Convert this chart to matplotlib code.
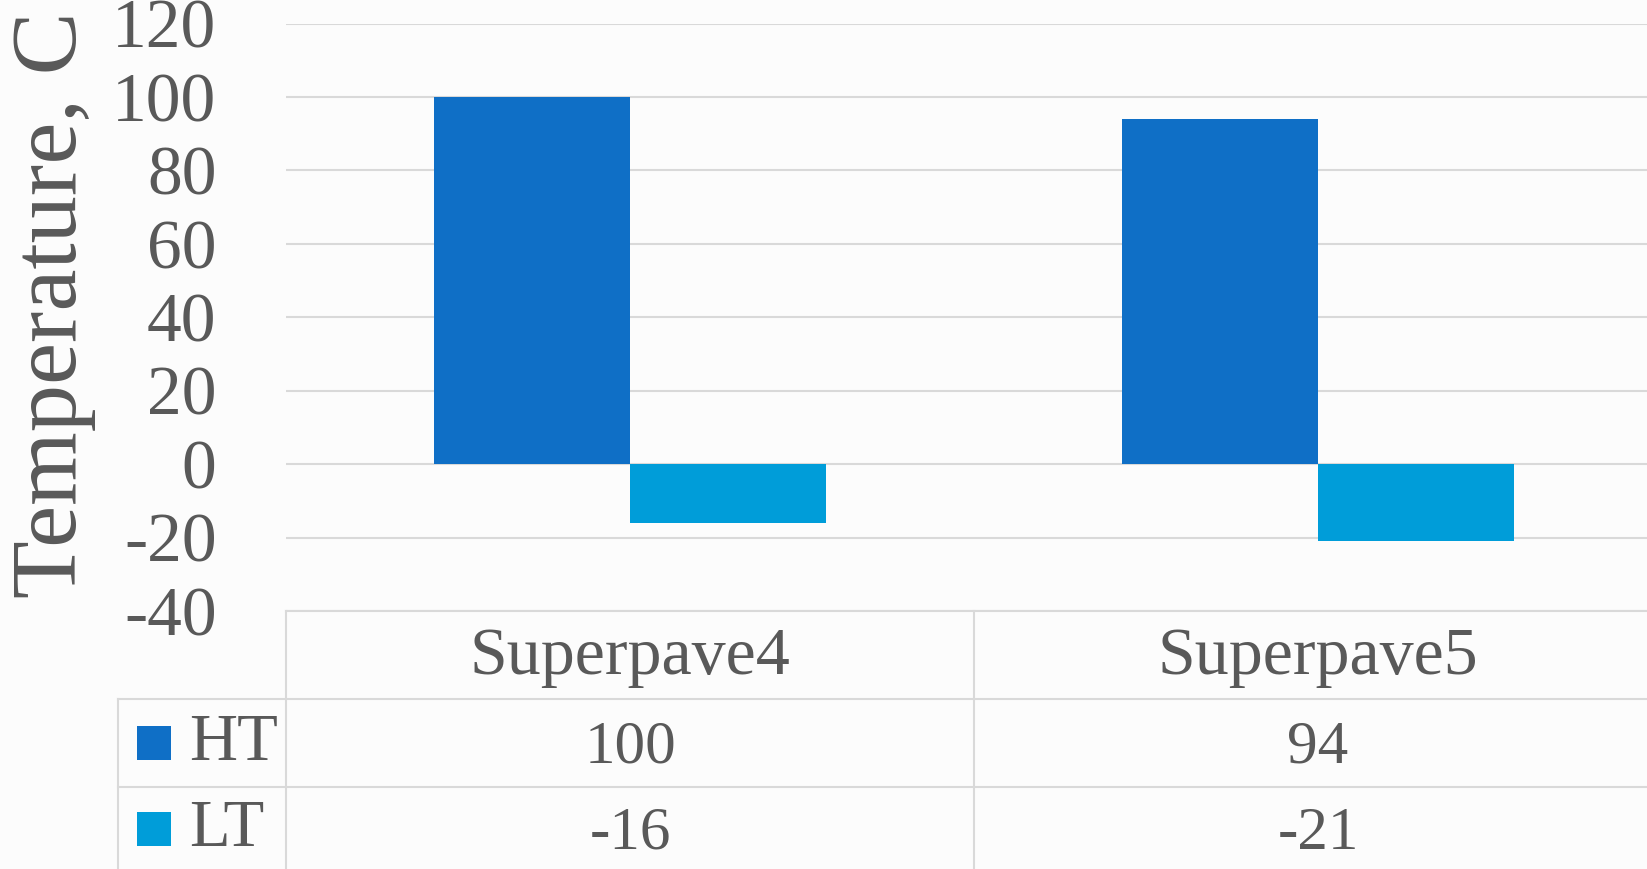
import matplotlib
matplotlib.use("Agg")
import matplotlib.pyplot as plt
from matplotlib.patches import Rectangle
import numpy as np

categories = ["Superpave4", "Superpave5"]
series_names = ["HT", "LT"]
ht_values = [100, 94]
lt_values = [-16, -21]
y_ticks = [-40, -20, 0, 20, 40, 60, 80, 100, 120]
y_label = "Temperature, C"

colors = ["#0F6FC6", "#009DD9"]
text_color = "#595959"
grid_color = "#D9D9D9"

plt.rcParams['font.family'] = ['Liberation Serif', 'DejaVu Serif']

W, H = 1647, 869
fig = plt.figure(figsize=(W / 100, H / 100), dpi=100)
fig.patch.set_facecolor("#FCFCFC")

# axes placement (pixel based)
ax_left, ax_right, ax_top, ax_bottom = 286, 1662, 23.6, 611
ax = fig.add_axes([ax_left / W, 1 - ax_bottom / H, (ax_right - ax_left) / W, (ax_bottom - ax_top) / H])
ax.set_facecolor("none")

x = np.arange(len(categories))
w = 0.285
ax.bar(x - w / 2, ht_values, w, color=colors[0], zorder=3)
ax.bar(x + w / 2, lt_values, w, color=colors[1], zorder=3)

ax.set_xlim(-0.5, len(categories) - 0.5)
ax.set_ylim(y_ticks[0], y_ticks[-1])
ax.set_yticks(y_ticks)
ax.set_yticklabels([str(t) for t in y_ticks], fontsize=50, color=text_color)
ax.tick_params(axis="y", length=0, pad=50)
ax.set_xticks([])
ax.grid(axis="y", color=grid_color, linewidth=1.5, zorder=0)
for s in ax.spines.values():
    s.set_visible(False)

fig.text(54 / W, 1 - 305 / H, y_label, rotation=90, fontsize=68, color=text_color,
         ha="center", va="center")

# data table
tr = ax.get_xaxis_transform()
px_per_unit = (ax_right - ax_left) / len(categories)
axh = ax_bottom - ax_top
def yax(py):
    return (ax_bottom - py) / axh

leg_left = -0.5 - (ax_left - 118) / px_per_unit
row_edges = [611, 699, 787, 880]
y_rows = [yax(p) for p in row_edges]
right = len(categories) - 0.5

lkw = dict(color=grid_color, linewidth=1.5, clip_on=False, transform=tr, zorder=1)
ax.plot([-0.5, right], [y_rows[0]] * 2, **lkw)
ax.plot([leg_left, right], [y_rows[1]] * 2, **lkw)
ax.plot([leg_left, right], [y_rows[2]] * 2, **lkw)
ax.plot([leg_left, leg_left], [y_rows[1], y_rows[3]], **lkw)
for xv in np.arange(len(categories) + 1) - 0.5:
    ax.plot([xv, xv], [y_rows[0], y_rows[3]], **lkw)

# header
hc = yax(657)
for xi, c in zip(x, categories):
    ax.text(xi, hc, c, transform=tr, ha="center", va="center", fontsize=49,
            color=text_color, clip_on=False)

# rows
row_centers_px = [743, 829]
txt_left = -0.5 - (ax_left - 189) / px_per_unit
for name, vals, col, rc_px in zip(series_names, [ht_values, lt_values], colors, row_centers_px):
    rc = yax(rc_px)
    fig.patches.append(Rectangle((137 / W, 1 - (rc_px + 17) / H), 34 / W, 34 / H,
                                 transform=fig.transFigure, facecolor=col, edgecolor="none"))
    ax.text(txt_left, rc, name, transform=tr, ha="left", va="center", fontsize=48,
            color=text_color, clip_on=False)
    for xi, v in zip(x, vals):
        ax.text(xi, yax(rc_px + 5), str(v), transform=tr, ha="center", va="center", fontsize=44,
                color=text_color, clip_on=False)

fig.savefig("out.png", dpi=100, facecolor=fig.get_facecolor())
